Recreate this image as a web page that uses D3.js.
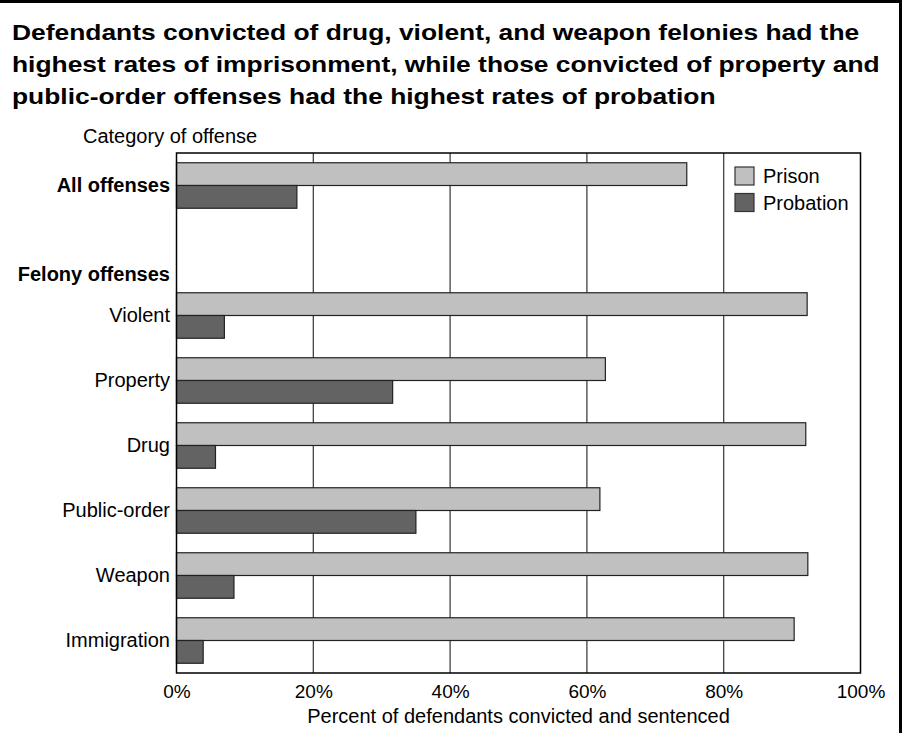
<!DOCTYPE html>
<html>
<head>
  <meta charset="utf-8">
  <title>Prison and probation by offense</title>
  <script src="https://cdn.jsdelivr.net/npm/d3@7"></script>
  <style>
    body {
      margin: 0;
      background: #fff;
    }

    text {
      font-family: "Liberation Sans", Arial, sans-serif;
      fill: #000;
    }

    .title {
      font-size: 22px;
      font-weight: bold;
    }

    .label {
      font-size: 20px;
    }

    .tick text {
      font-size: 19px;
    }
  </style>
</head>
<body>
  <script>
    // data
    var categories = ["All offenses", "Felony offenses", "Violent", "Property", "Drug", "Public-order", "Weapon", "Immigration"];
    var boldLabels = ["All offenses", "Felony offenses"];
    var series = ["Prison", "Probation"];
    var prison = [74.6, null, 92.2, 62.7, 92.0, 61.9, 92.3, 90.3];
    var probation = [17.6, null, 7.0, 31.6, 5.7, 35.0, 8.4, 3.9];
    var xTicks = [0, 20, 40, 60, 80, 100];
    var titleLines = [
      "Defendants convicted of drug, violent, and weapon felonies had the",
      "highest rates of imprisonment, while those convicted of property and",
      "public-order offenses had the highest rates of probation"
    ];

    var width = 906;
    var height = 733;
    var plotLeft = 176.5, plotRight = 860.5, plotTop = 153, plotBottom = 673;

    var svg = d3.select("body").append("svg")
      .attr("width", width)
      .attr("height", height);

    // outer frame (only top and right edges show)
    svg.append("line")
      .attr("x1", 0).attr("x2", 902)
      .attr("y1", 1.5).attr("y2", 1.5)
      .attr("stroke", "#000").attr("stroke-width", 3);
    svg.append("line")
      .attr("x1", 900.5).attr("x2", 900.5)
      .attr("y1", 0).attr("y2", 733)
      .attr("stroke", "#000").attr("stroke-width", 3);

    // title, the original type is set wide so it gets stretched
    var titleG = svg.append("g")
      .attr("transform", "translate(12,0) scale(1.2,1)");
    titleG.selectAll(".title")
      .data(titleLines)
      .enter()
      .append("text")
      .attr("class", "title")
      .attr("x", 0)
      .attr("y", function(d, i) { return 40 + i * 31.8; })
      .text(function(d) { return d; });

    var xScale = d3.scaleLinear()
      .domain([0, 100])
      .range([plotLeft, plotRight]);

    var yScale = d3.scaleBand()
      .domain(categories)
      .range([plotTop, plotBottom])
      .paddingInner(0.3)
      .paddingOuter(0.15);

    var subScale = d3.scaleBand()
      .domain(series)
      .range([0, yScale.bandwidth()]);

    var color = d3.scaleOrdinal()
      .domain(series)
      .range(["#c0c0c0", "#636363"]);

    // grid lines
    svg.append("g")
      .attr("class", "grid")
      .selectAll("line")
      .data(xTicks.slice(1, -1))
      .enter()
      .append("line")
      .attr("x1", function(d) { return xScale(d); })
      .attr("x2", function(d) { return xScale(d); })
      .attr("y1", plotTop)
      .attr("y2", plotBottom)
      .attr("stroke", "#333")
      .attr("stroke-width", 1.2);

    // bars
    var rows = categories.map(function(c, i) {
      return { cat: c, values: [{ key: "Prison", v: prison[i] }, { key: "Probation", v: probation[i] }] };
    });

    var groups = svg.selectAll(".row")
      .data(rows)
      .enter()
      .append("g")
      .attr("class", "row")
      .attr("transform", function(d) { return "translate(0," + yScale(d.cat) + ")"; });

    groups.selectAll("rect")
      .data(function(d) { return d.values.filter(function(e) { return e.v != null; }); })
      .enter()
      .append("rect")
      .attr("x", xScale(0))
      .attr("y", function(d) { return subScale(d.key); })
      .attr("width", function(d) { return xScale(d.v) - xScale(0); })
      .attr("height", subScale.bandwidth())
      .attr("fill", function(d) { return color(d.key); })
      .attr("stroke", "#222")
      .attr("stroke-width", 1.2);

    // plot frame
    svg.append("rect")
      .attr("x", plotLeft)
      .attr("y", plotTop)
      .attr("width", plotRight - plotLeft)
      .attr("height", plotBottom - plotTop)
      .attr("fill", "none")
      .attr("stroke", "#000")
      .attr("stroke-width", 1.5);

    // x axis
    var xAxis = d3.axisBottom(xScale)
      .tickValues(xTicks)
      .tickSize(0)
      .tickPadding(12)
      .tickFormat(function(d) { return d + "%"; });

    var gx = svg.append("g")
      .attr("class", "axis xAxis")
      .attr("transform", "translate(0," + plotBottom + ")")
      .call(xAxis);
    gx.select(".domain").remove();
    gx.selectAll(".tick text")
      .attr("fill", "#000")
      .attr("font-family", null)
      .attr("font-size", null);

    svg.append("text")
      .attr("class", "label")
      .attr("x", (plotLeft + plotRight) / 2)
      .attr("y", 723)
      .style("text-anchor", "middle")
      .text("Percent of defendants convicted and sentenced");

    // category labels
    svg.selectAll(".catLabel")
      .data(categories)
      .enter()
      .append("text")
      .attr("class", "label catLabel")
      .attr("x", 170)
      .attr("y", function(d) {
        if (d == "Felony offenses") return yScale(d) + yScale.bandwidth() + 7.5;
        return yScale(d) + yScale.bandwidth() / 2 + 6;
      })
      .style("text-anchor", "end")
      .style("font-weight", function(d) { return boldLabels.indexOf(d) >= 0 ? "bold" : "normal"; })
      .text(function(d) { return d; });

    svg.append("text")
      .attr("class", "label")
      .attr("x", 83)
      .attr("y", 143)
      .text("Category of offense");

    // legend
    var legend = svg.selectAll(".legend")
      .data(series)
      .enter()
      .append("g")
      .attr("class", "legend")
      .attr("transform", function(d, i) { return "translate(735," + (167 + i * 26.5) + ")"; });

    legend.append("rect")
      .attr("width", 19)
      .attr("height", 18)
      .attr("fill", function(d) { return color(d); })
      .attr("stroke", "#333")
      .attr("stroke-width", 1.2);

    legend.append("text")
      .attr("class", "label")
      .attr("x", 28)
      .attr("y", 16)
      .text(function(d) { return d; });
  </script>
</body>
</html>
